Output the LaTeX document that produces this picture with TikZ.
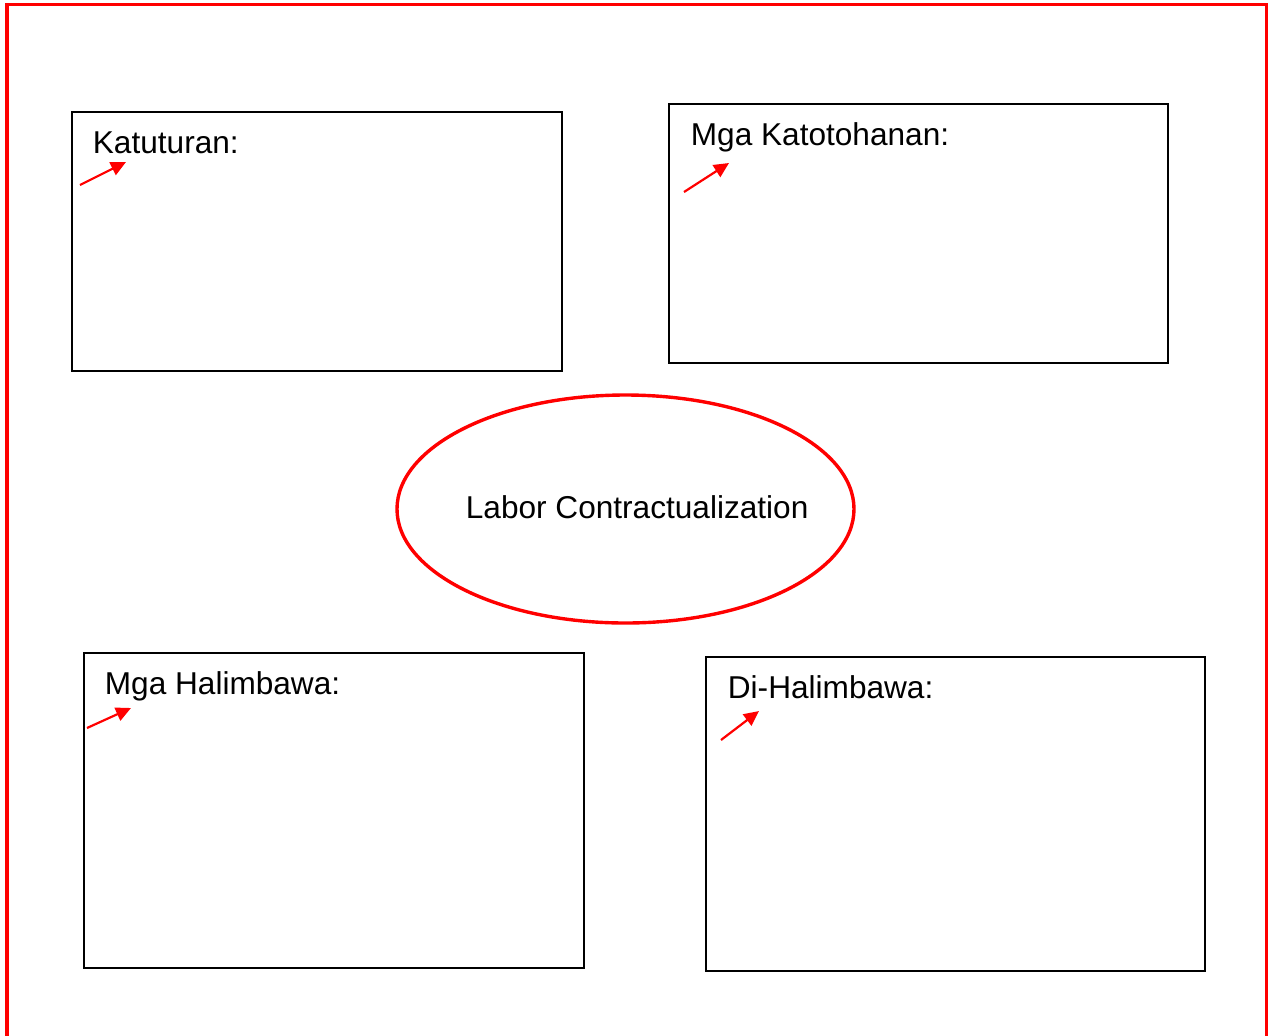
\documentclass[tikz,border=0pt]{standalone}
\usepackage{fontspec}
\setmainfont{Liberation Sans}
\usetikzlibrary{arrows.meta,shapes.geometric}
\begin{document}
\begin{tikzpicture}[x=0.5pt,y=-0.5pt,
  panel/.style={draw=black,line width=1pt,fill=none},
  lbl/.style={anchor=base west,inner sep=0pt,font=\fontsize{15.8}{19}\selectfont},
  pointer/.style={draw=red,line width=1.1pt,-{Triangle[length=7.5pt,width=7pt]}},
  frame/.style={draw=red,line width=1.8pt}]
\useasboundingbox (0,0) rectangle (1269,1035);
% outer red frame (open at the bottom)
\draw[frame] (7,1040) -- (7,4.5) -- (1266.5,4.5) -- (1266.5,1040);
% boxes
\draw[panel] (72,112) rectangle (562,371);
\draw[panel] (669,104) rectangle (1168,363);
\draw[panel] (84,653) rectangle (584,968);
\draw[panel] (706,657) rectangle (1205,971);
% centre ellipse
\node[draw=red,line width=1.7pt,ellipse,minimum width=228.5pt,minimum height=114pt,inner sep=0pt] (center) at (625.5,509) {};
\node[lbl] (ctext) at (465.5,518) {Labor Contractualization};
% labels
\node[lbl] (t1) at (92.5,153) {Katuturan:};
\node[lbl] (t2) at (690.5,145) {Mga Katotohanan:};
\node[lbl] (t3) at (104.5,694) {Mga Halimbawa:};
\node[lbl] (t4) at (727.5,698) {Di-Halimbawa:};
% pointer arrows
\coordinate (a1s) at (80,185);  \coordinate (a1e) at (126,162);
\coordinate (a2s) at (684,192); \coordinate (a2e) at (729,163);
\coordinate (a3s) at (87,728);  \coordinate (a3e) at (131,708);
\coordinate (a4s) at (721,740); \coordinate (a4e) at (759,711);
\draw[pointer] (a1s) -- (a1e);
\draw[pointer] (a2s) -- (a2e);
\draw[pointer] (a3s) -- (a3e);
\draw[pointer] (a4s) -- (a4e);
\end{tikzpicture}
\end{document}
